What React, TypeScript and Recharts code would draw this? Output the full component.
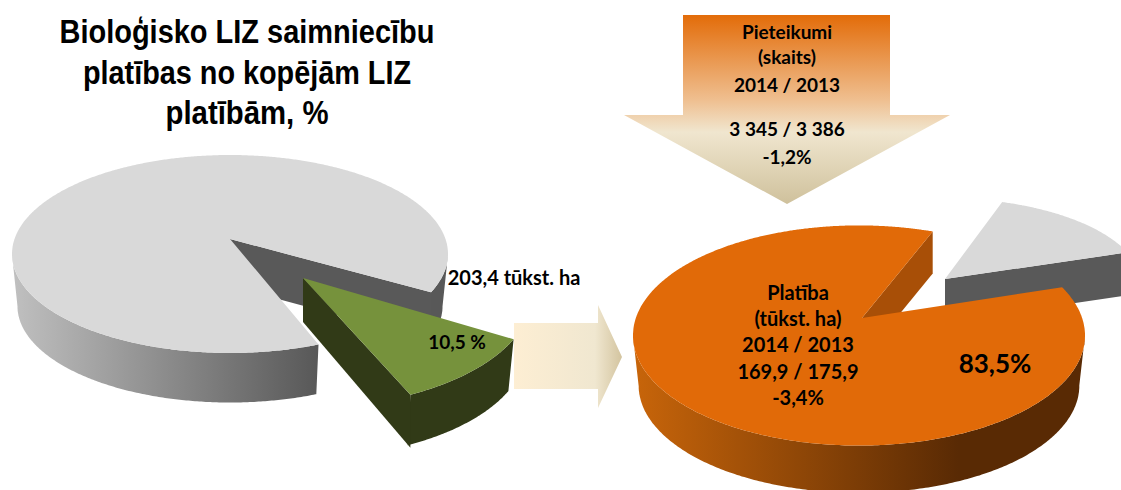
import { Pie, PieChart } from "recharts";

const leftNames = ["Pārējā LIZ", "Bioloģiskā LIZ"];
const leftValues = [89.5, 10.5];
const rightNames = ["Pārējās bioloģiskās", "Platībmaksājumi"];
const rightValues = [16.5, 83.5];

const titleLines = ["Bioloģisko LIZ saimniecību", "platības no kopējām LIZ", "platībām, %"];
const appLines = ["Pieteikumi", "(skaits)", "2014 / 2013"];
const appValueLines = ["3 345 / 3 386", "-1,2%"];
const areaLines = ["Platība", "(tūkst. ha)", "2014 / 2013", "169,9 / 175,9", "-3,4%"];

const leftData = leftNames.map((name, i) => ({ name, value: leftValues[i] }));
const rightData = rightNames.map((name, i) => ({ name, value: rightValues[i] }));

const BODY_FONT = "Lato, 'Open Sans', sans-serif";

type Look = {
  dx: number; dy: number; // explode offset
  rxScale: number; ryScale: number; // top ellipse against the outer radius
  apexX: number; apexY: number; // perspective shift of the tip
  depth: number; wallRim: number; wallApex: number;
  warp: number; turn: number;
  face: string; side: string; wall: string;
};

const looks: Record<string, Look> = {
  "Pārējā LIZ": {
    dx: 0, dy: 0, rxScale: 1, ryScale: 0.454, apexX: 0, apexY: -15,
    depth: 52, wallRim: 48, wallApex: 47, warp: 0.19, turn: 0,
    face: "#d9d9d9", side: "url(#greySide)", wall: "#595959",
  },
  "Bioloģiskā LIZ": {
    dx: 73, dy: 41, rxScale: 1.05, ryScale: 0.518, apexX: 0, apexY: -17,
    depth: 53, wallRim: 53, wallApex: 44, warp: 0.04, turn: 7,
    face: "#76923c", side: "#313a17", wall: "#313a17",
  },
  "Pārējās bioloģiskās": {
    dx: 83, dy: -50.5, rxScale: 0.885, ryScale: 0.385, apexX: 3, apexY: -6,
    depth: 43, wallRim: 43, wallApex: 43, warp: 0.316, turn: 3.87,
    face: "#d9d9d9", side: "#595959", wall: "#595959",
  },
  "Platībmaksājumi": {
    dx: 0, dy: 0, rxScale: 1, ryScale: 0.487, apexX: 3, apexY: -17.5,
    depth: 50, wallRim: 42, wallApex: 42, warp: 0.513, turn: -3.4,
    face: "#e16a08", side: "url(#orangeSide)", wall: "#a84f07",
  },
};

const BOTTOM_NARROW = 0.975;
const RAD = Math.PI / 180;

// flat 3D slice: elliptical face, outer wall and the cut wall
const Slice3D = (props: any) => {
  const { cx, cy, outerRadius, startAngle, endAngle } = props;
  const look = looks[props.payload?.name ?? props.name];
  if (!look) return null;
  const ex = cx + look.dx;
  const ey = cy + look.dy;
  const rx = outerRadius * look.rxScale;
  const ry = outerRadius * look.ryScale;
  const warp = (deg: number) => deg + look.turn + (look.warp * Math.cos(deg * RAD)) / RAD;
  const rim = (phi: number, drop = 0, narrow = 1): [number, number] => [
    ex + rx * narrow * Math.cos(phi * RAD),
    ey + drop - ry * narrow * Math.sin(phi * RAD),
  ];
  const toPath = (pts: [number, number][]) =>
    "M" + pts.map((p) => `${p[0].toFixed(1)},${p[1].toFixed(1)}`).join("L") + "Z";

  const apex: [number, number] = [ex + look.apexX, ey + look.apexY];
  const phis: number[] = [];
  for (let a = startAngle; a < endAngle; a += 0.5) phis.push(warp(a));
  phis.push(warp(endAngle));

  const runs: number[][] = [];
  let run: number[] = [];
  phis.forEach((phi) => {
    if (Math.sin(phi * RAD) <= 0.001) run.push(phi);
    else if (run.length) {
      runs.push(run);
      run = [];
    }
  });
  if (run.length) runs.push(run);

  const first = rim(phis[0]);
  return (
    <g>
      {runs.map((r, i) => (
        <path
          key={i}
          fill={look.side}
          d={toPath([
            ...r.map((p) => rim(p)),
            ...[...r].reverse().map((p) => rim(p, look.depth, BOTTOM_NARROW)),
          ])}
        />
      ))}
      <path
        fill={look.wall}
        d={toPath([
          apex,
          first,
          [first[0], first[1] + look.wallRim],
          [apex[0], apex[1] + look.wallApex],
        ])}
      />
      <path fill={look.face} d={toPath([apex, ...phis.map((p) => rim(p))])} />
    </g>
  );
};

const Lines = ({ lines, x, ys, size, color = "#000" }: any) => (
  <>
    {lines.map((line: string, i: number) => (
      <text
        key={line}
        x={x}
        y={ys[i]}
        textAnchor="middle"
        fontFamily={BODY_FONT}
        fontWeight={700}
        fontSize={size}
        fill={color}
      >
        {line}
      </text>
    ))}
  </>
);

export default function App() {
  return (
    <div style={{ position: "absolute", left: 0, top: 0, width: 1121, height: 490, overflow: "hidden", background: "#fff" }}>
      <PieChart width={1121} height={490} margin={{ top: 0, right: 0, bottom: 0, left: 0 }}>
        <defs>
          <linearGradient id="greySide" gradientUnits="userSpaceOnUse" x1="12" y1="0" x2="318" y2="0">
            <stop offset="0" stopColor="#c0c0c0" />
            <stop offset="1" stopColor="#585858" />
          </linearGradient>
          <linearGradient id="orangeSide" x1="0" y1="0" x2="1" y2="0">
            <stop offset="0" stopColor="#c8650a" />
            <stop offset="0.72" stopColor="#592a04" />
            <stop offset="1" stopColor="#592a04" />
          </linearGradient>
          <linearGradient id="downArrow" x1="0" y1="0" x2="0" y2="1">
            <stop offset="0" stopColor="#e36c09" />
            <stop offset="0.45" stopColor="#efbf90" />
            <stop offset="0.62" stopColor="#f0e6cf" />
            <stop offset="1" stopColor="#cfc19c" />
          </linearGradient>
          <linearGradient id="rightArrow" x1="0" y1="0" x2="1" y2="0">
            <stop offset="0" stopColor="#fdeed3" />
            <stop offset="0.75" stopColor="#f0e7d0" />
            <stop offset="1" stopColor="#d3c49f" />
          </linearGradient>
        </defs>

        <polygon fill="url(#downArrow)" points="683,15 890,15 890,115 950,115 787,204 624,115 683,115" />
        <polygon fill="url(#rightArrow)" points="514,323 598,323 598,305 622,357 598,408 598,389 514,389" />

        <Pie
          data={leftData}
          dataKey="value"
          nameKey="name"
          cx={230}
          cy={254}
          outerRadius={218}
          startAngle={-32}
          endAngle={328}
          stroke="none"
          shape={Slice3D}
          isAnimationActive={false}
        />
        <Pie
          data={rightData}
          dataKey="value"
          nameKey="name"
          cx={859}
          cy={335.5}
          outerRadius={226}
          startAngle={0}
          endAngle={360}
          stroke="none"
          shape={Slice3D}
          isAnimationActive={false}
        />
      </PieChart>

      {/* labels sit above the pie layer */}
      <svg width={1121} height={490} style={{ position: "absolute", left: 0, top: 0, pointerEvents: "none" }}>
        {titleLines.map((line, i) => (
          <text
            key={line}
            x={247}
            y={[43, 84, 124][i]}
            textAnchor="middle"
            fontFamily="'Liberation Sans', Arial, sans-serif"
            fontWeight={700}
            fontSize={33}
            textLength={[375, 328, 163][i]}
            lengthAdjust="spacingAndGlyphs"
          >
            {line}
          </text>
        ))}
        <Lines lines={appLines} x={787} ys={[39, 64, 92]} size={19} />
        <Lines lines={appValueLines} x={787} ys={[136, 164]} size={19} />
        <Lines lines={areaLines} x={798} ys={[300, 326, 352, 379, 405]} size={20} />
        <Lines lines={["83,5%"]} x={995} ys={[373]} size={26} />
        <Lines lines={["203,4 tūkst. ha"]} x={514} ys={[285]} size={20} />
        <Lines lines={["10,5 %"]} x={457} ys={[349]} size={19} />
      </svg>
    </div>
  );
}
